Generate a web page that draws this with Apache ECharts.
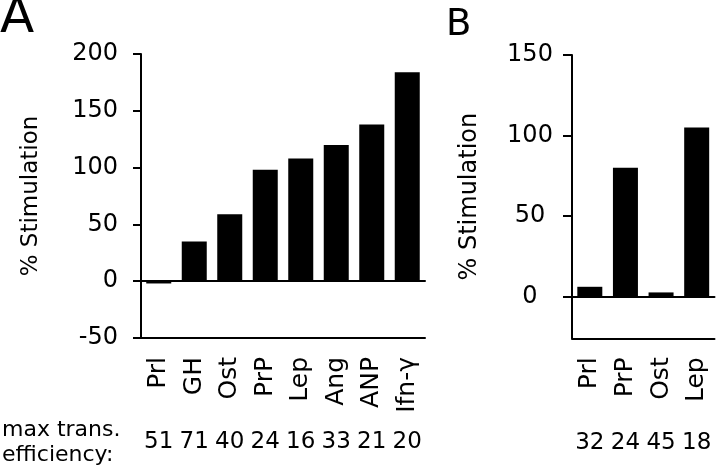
<!DOCTYPE html>
<html>
<head>
<meta charset="utf-8">
<script src="https://cdn.jsdelivr.net/npm/echarts@6/dist/echarts.min.js"></script>
<style>html,body{margin:0;padding:0;background:#fff}#c{width:720px;height:473px}</style>
</head>
<body>
<div id="c"></div>
<script>
const catsA = ['Prl', 'GH', 'Ost', 'PrP', 'Lep', 'Ang', 'ANP', 'Ifn-γ'];
const valsA = [-2, 35, 59, 98, 108, 120, 138, 184];
const effA = ['51', '71', '40', '24', '16', '33', '21', '20'];
const ticksA = [-50, 0, 50, 100, 150, 200];

const catsB = ['Prl', 'PrP', 'Ost', 'Lep'];
const valsB = [6, 80, 2.5, 105];
const effB = ['32', '24', '45', '18'];
const ticksB = [0, 50, 100, 150];

const FONT = 'DejaVu Sans';
const chart = echarts.init(document.getElementById('c'), null, {renderer: 'canvas'});

function catAxis(grid, cats) {
  return {
    type: 'category', gridIndex: grid, data: cats, position: 'bottom',
    axisLine: {onZero: false, lineStyle: {color: '#000', width: 2}},
    axisTick: {alignWithLabel: true, length: 10, lineStyle: {color: '#000', width: 2}},
    axisLabel: {rotate: 90, margin: 19, color: '#000', fontFamily: FONT, fontSize: 25, interval: 0},
    splitLine: {show: false}
  };
}
function zeroAxis(grid, cats) {
  return {
    type: 'category', gridIndex: grid, data: cats,
    axisLine: {onZero: true, lineStyle: {color: '#000', width: 2}},
    axisTick: {show: false}, axisLabel: {show: false}, splitLine: {show: false}
  };
}
function effAxis(grid, eff) {
  return {
    type: 'category', gridIndex: grid, data: eff, position: 'bottom',
    axisLine: {show: false, onZero: false}, axisTick: {show: false},
    axisLabel: {margin: 93, color: '#000', fontFamily: FONT, fontSize: 23, interval: 0},
    splitLine: {show: false}
  };
}

chart.setOption({
  animation: false,
  backgroundColor: '#fff',
  grid: [
    {left: 141, width: 284, top: 54, height: 284},
    {left: 572, width: 142.5, top: 55, height: 283.3}
  ],
  xAxis: [
    catAxis(0, catsA), zeroAxis(0, catsA), effAxis(0, effA),
    catAxis(1, catsB), zeroAxis(1, catsB), effAxis(1, effB)
  ],
  yAxis: [
    {
      type: 'value', gridIndex: 0, min: -50, max: 200, interval: 50,
      name: '% Stimulation', nameLocation: 'middle', nameGap: 98,
      nameTextStyle: {color: '#000', fontFamily: FONT, fontSize: 23},
      axisLine: {show: true, lineStyle: {color: '#000', width: 2}},
      axisTick: {show: true, length: 8, lineStyle: {color: '#000', width: 2}},
      axisLabel: {margin: 23, color: '#000', fontFamily: FONT, fontSize: 24, customValues: ticksA},
      splitLine: {show: false}
    },
    {
      type: 'value', gridIndex: 1, min: -26, max: 150,
      name: '% Stimulation', nameLocation: 'middle', nameGap: 90,
      nameTextStyle: {color: '#000', fontFamily: FONT, fontSize: 24},
      axisLine: {show: true, lineStyle: {color: '#000', width: 2}},
      axisTick: {show: true, length: 9, lineStyle: {color: '#000', width: 2}, customValues: ticksB},
      axisLabel: {margin: 42, align: 'center', color: '#000', fontFamily: FONT, fontSize: 24, customValues: ticksB},
      splitLine: {show: false}
    }
  ],
  series: [
    {type: 'bar', xAxisIndex: 0, yAxisIndex: 0, data: valsA, barWidth: 25, itemStyle: {color: '#000'}},
    {type: 'bar', xAxisIndex: 3, yAxisIndex: 1, data: valsB, barWidth: 25, itemStyle: {color: '#000'}}
  ],
  graphic: [
    {type: 'text', left: 0, top: -6, style: {text: 'A', font: '50px "DejaVu Sans"', fill: '#000'}},
    {type: 'text', left: 446, top: 7, style: {text: 'B', font: '37px "DejaVu Sans"', fill: '#000'}},
    {type: 'text', x: 2, y: 430, style: {text: 'max trans.', font: '22px "DejaVu Sans"', fill: '#000', verticalAlign: 'middle'}},
    {type: 'text', x: 2, y: 455, style: {text: 'efficiency:', font: '22px "DejaVu Sans"', fill: '#000', verticalAlign: 'middle'}}
  ]
});
</script>
</body>
</html>
